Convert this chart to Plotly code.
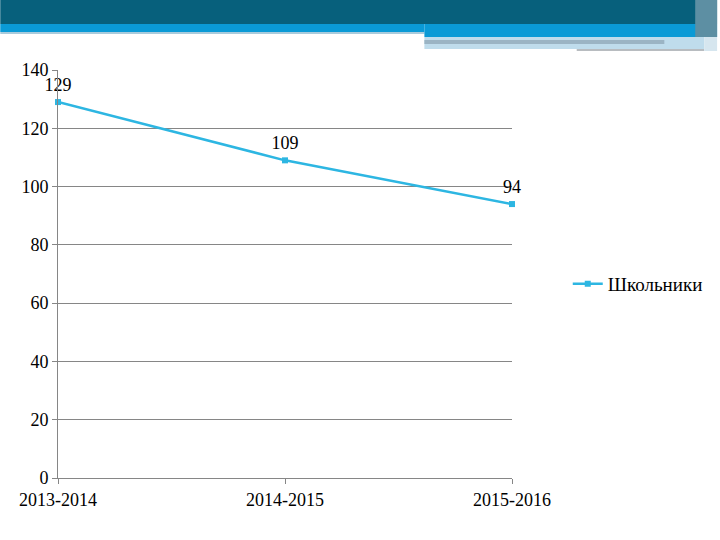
import plotly.graph_objects as go

categories = ["2013-2014", "2014-2015", "2015-2016"]
values = [129, 109, 94]
series_name = "Школьники"
y_ticks = [0, 20, 40, 60, 80, 100, 120, 140]

W, H = 720, 540
L, R, T, B = 58, 514, 70, 478
def px(x): return (x - L) / (R - L)
def py(y): return (B - y) / (B - T)

line_color = "#2db6e2"
font = "Liberation Serif, Times New Roman, serif"

fig = go.Figure()
fig.add_trace(go.Scatter(
    x=[0, 1, 2], y=values, mode="lines+markers", name=series_name,
    line=dict(color=line_color, width=2.5),
    marker=dict(symbol="square", size=6, color=line_color),
    cliponaxis=False,
))
fig.add_trace(go.Scatter(
    x=[0, 1, 2], y=values, mode="markers+text", text=[str(v) for v in values],
    marker=dict(size=9, opacity=0),
    textposition="top center", textfont=dict(size=18, color="black", family=font),
    showlegend=False, hoverinfo="skip", cliponaxis=False,
))

shapes = []
def rect(x0, y0, x1, y1, color):
    shapes.append(dict(type="rect", xref="paper", yref="paper",
                       x0=px(x0), x1=px(x1), y0=py(y1), y1=py(y0),
                       fillcolor=color, line=dict(width=0), layer="above"))

rect(0, 0, 720, 24, "#07607c")
rect(0, 24, 426, 32, "#0a9ad6")
rect(0, 32, 426, 34, "#a9cbdc")
rect(426, 24, 720, 37, "#0a9ad6")
rect(426, 37, 707, 49, "#bfdcec")
rect(426, 40, 667, 44, "#9bb4c4")
rect(579, 49, 707, 51, "#b8bcc0")
rect(698, 0, 720, 37, "#5d8fa3")
rect(707, 37, 720, 51, "#d6e6ef")

fig.update_layout(
    width=W, height=H,
    margin=dict(l=L, r=W - R, t=T, b=H - B),
    paper_bgcolor="white", plot_bgcolor="white",
    font=dict(family=font, size=18, color="black"),
    shapes=shapes,
    xaxis=dict(
        tickmode="array", tickvals=[0, 1, 2], ticktext=categories,
        range=[0, 2], showgrid=False, zeroline=False,
        showline=True, linecolor="#868686", linewidth=1,
        ticks="outside", ticklen=5, tickcolor="#868686",
        tickfont=dict(size=18, family=font),
    ),
    yaxis=dict(
        range=[0, 140], tickvals=y_ticks, showgrid=True, gridcolor="#868686",
        gridwidth=1, zeroline=False, showline=True, linecolor="#868686",
        ticks="outside", ticklen=5, tickcolor="#868686",
        tickfont=dict(size=18, family=font),
    ),
    legend=dict(x=px(570), y=py(284), xanchor="left", yanchor="middle",
                font=dict(size=19, family=font), bgcolor="rgba(0,0,0,0)"),
    showlegend=True,
)

fig.write_html("out.html", config={"displayModeBar": False},
               post_script="document.body.style.margin='0';document.body.style.padding='0';")
